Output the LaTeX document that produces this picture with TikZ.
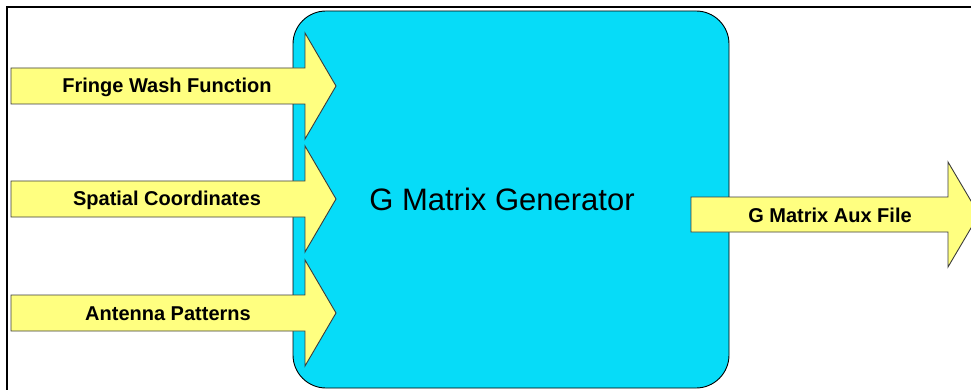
\documentclass[tikz,border=0pt]{standalone}
\usepackage{fontspec}
\setmainfont{Liberation Sans}
\definecolor{genblue}{RGB}{6,220,248}
\definecolor{flowyellow}{RGB}{255,255,128}
\definecolor{edgegray}{RGB}{60,60,60}
\tikzset{
  flow/.style={fill=flowyellow, draw=edgegray, line width=0.9pt, line join=miter},
  flowlabel/.style={font=\fontsize{20}{24}\selectfont\bfseries, inner sep=0pt},
  inarrow/.pic={\path[flow] (11,-18) -- (305,-18) -- (305,-53) -- (336,0)
      -- (305,53) -- (305,18) -- (11,18) -- cycle;},
  outarrow/.pic={\path[flow] (691,-17.5) -- (948,-17.5) -- (948,-52.5) -- (979,0)
      -- (948,52.5) -- (948,17.5) -- (691,17.5) -- cycle;}
}
\begin{document}
\begin{tikzpicture}[x=1pt,y=-1pt]
\useasboundingbox (0,0) rectangle (971,390);
\clip (0,0) rectangle (971,390);
% outer frame
\draw[line width=2.2pt] (6.8,400) -- (6.8,6.8) -- (990,6.8);
% generator block
\node[draw=black, line width=0.9pt, fill=genblue, rounded corners=33pt,
      minimum width=436pt, minimum height=377pt, inner sep=0pt] (gen) at (511,199.5) {};
\node[font=\fontsize{31}{36}\selectfont, inner sep=0pt] (gentext) at (502,199) {G Matrix Generator};
% input flows
\pic at (0,86) {inarrow};
\pic at (0,199) {inarrow};
\pic at (0,313) {inarrow};
\node[flowlabel] (fringe) at (167,87.5) {Fringe Wash Function};
\node[flowlabel] (spatial) at (167,200.5) {Spatial Coordinates};
\node[flowlabel] (antenna) at (168,313.5) {Antenna Patterns};
% output flow
\pic at (0,214.5) {outarrow};
\node[flowlabel] (auxfile) at (830,215.5) {G Matrix Aux File};
\end{tikzpicture}
\end{document}
